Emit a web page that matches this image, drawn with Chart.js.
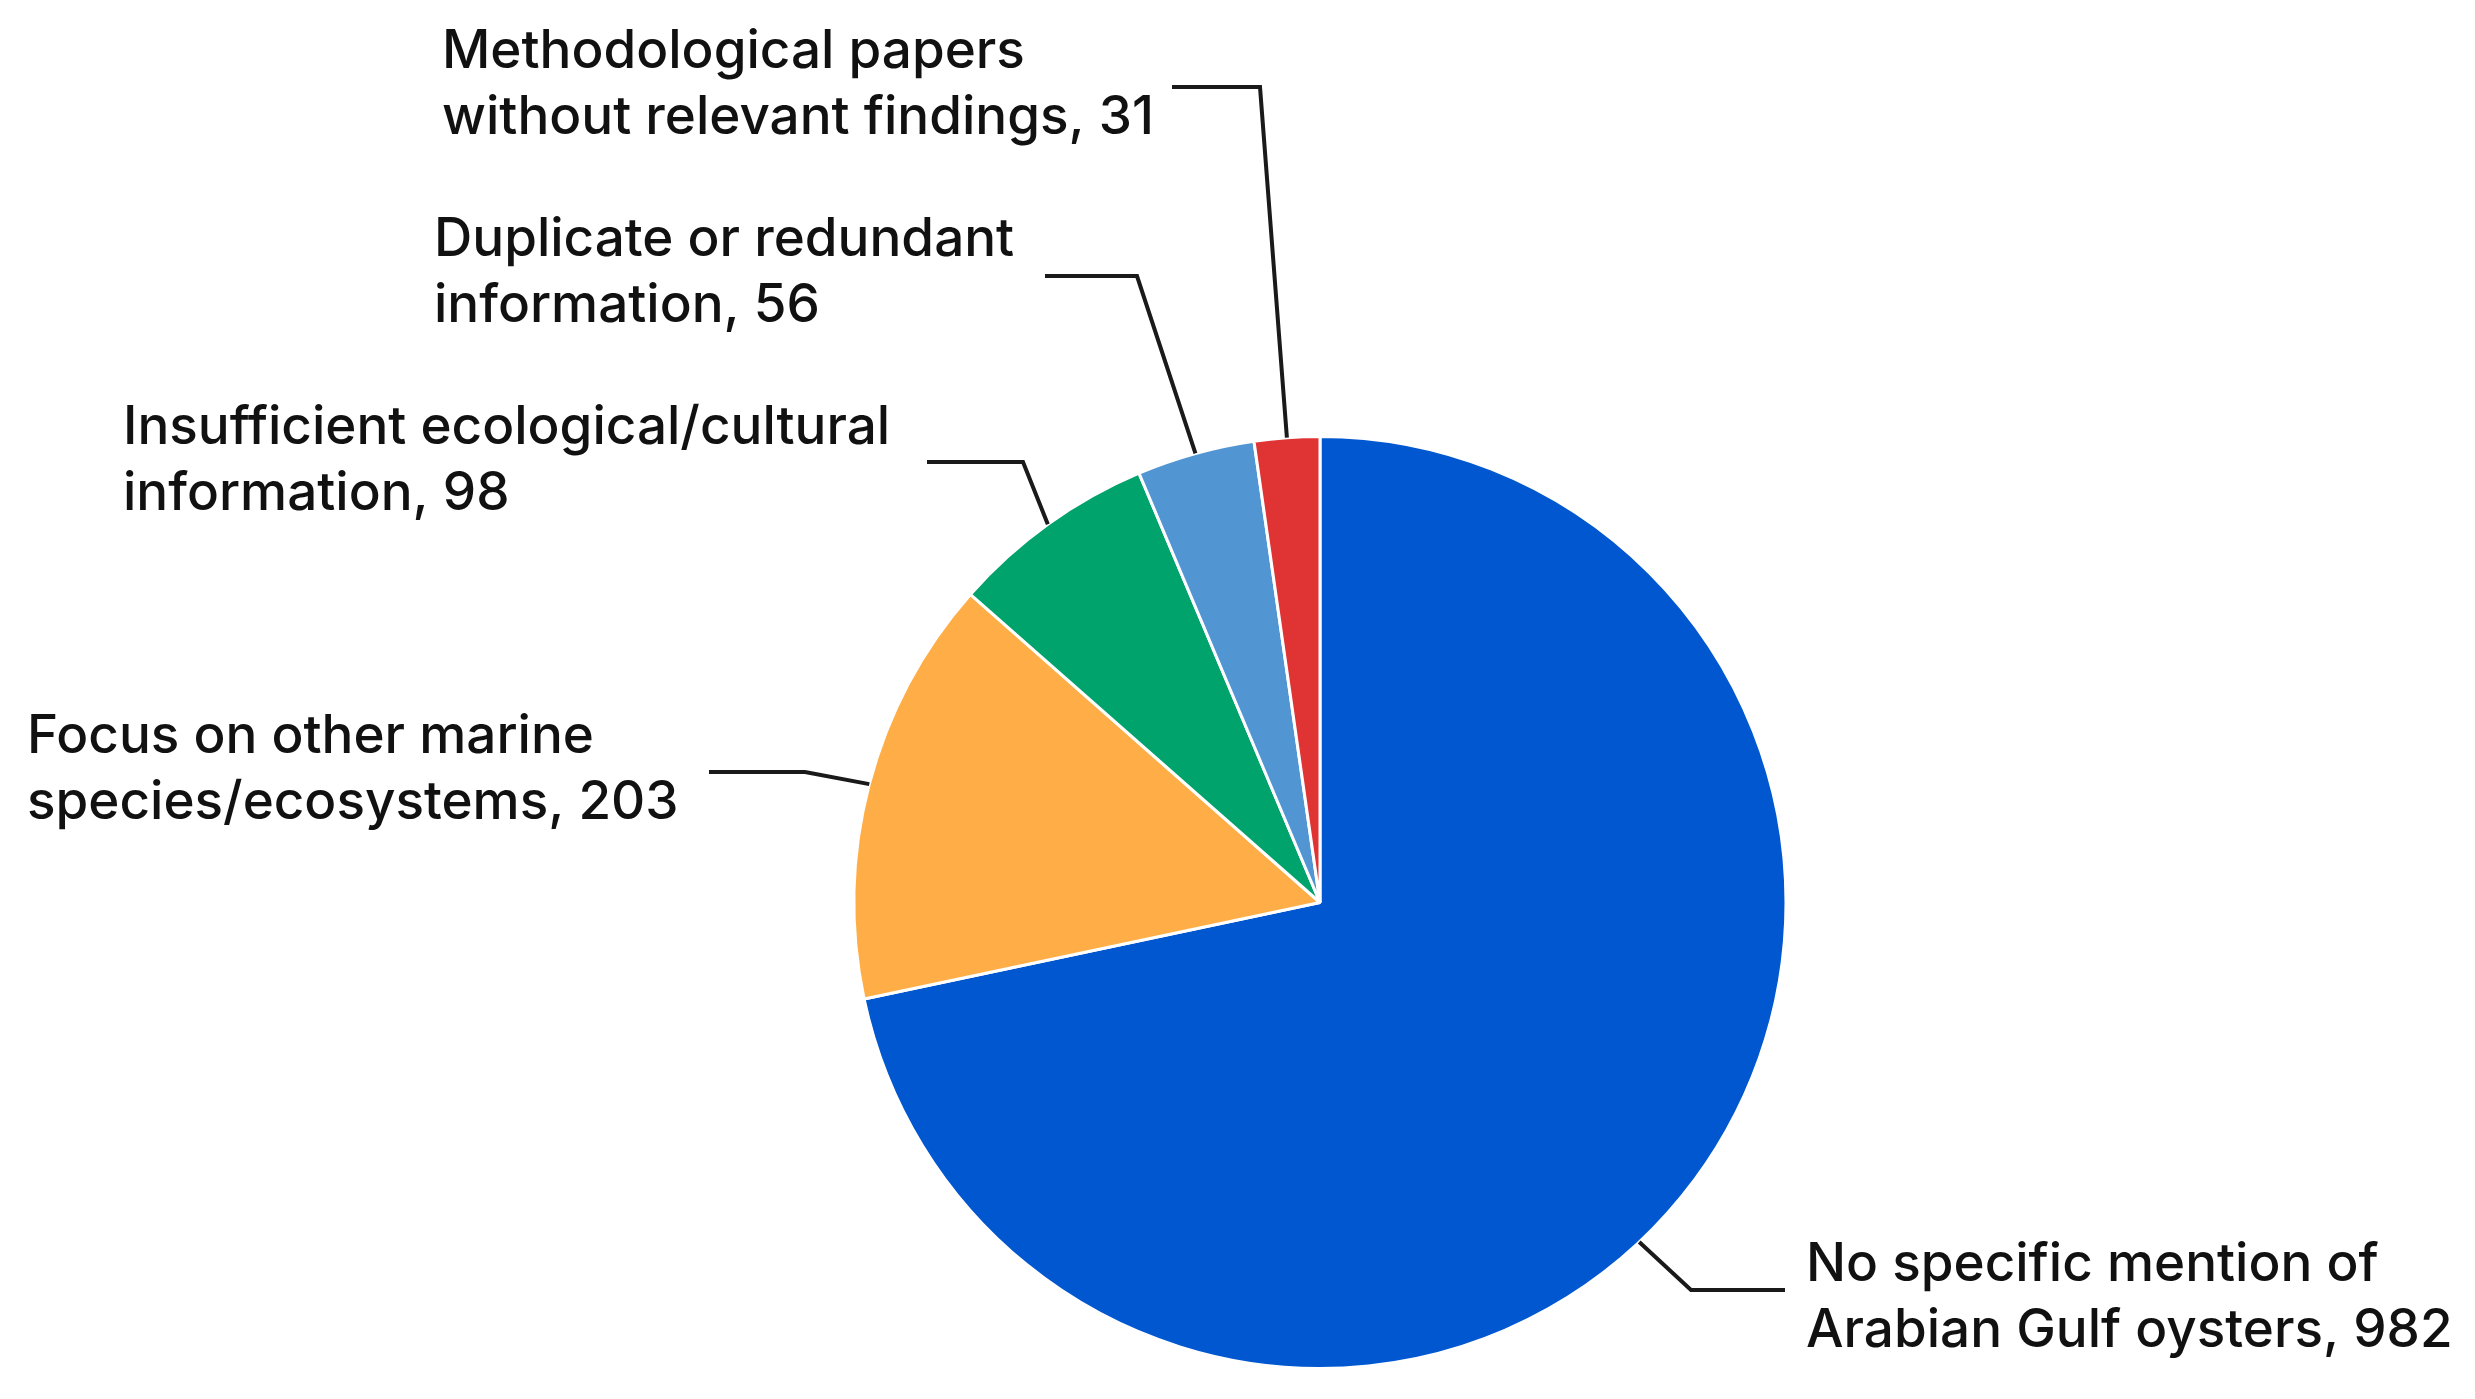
<!DOCTYPE html>
<html>
<head>
<meta charset="utf-8">
<script src="https://cdn.jsdelivr.net/npm/chart.js@4.4.0/dist/chart.umd.min.js"></script>
<style>
  html, body { margin: 0; padding: 0; background: #fff; }
  #wrap { width: 2475px; height: 1399px; }
</style>
</head>
<body>
<div id="wrap"><canvas id="pieChart" width="2475" height="1399"></canvas></div>
<script>
const categories = [
  'No specific mention of Arabian Gulf oysters',
  'Focus on other marine species/ecosystems',
  'Insufficient ecological/cultural information',
  'Duplicate or redundant information',
  'Methodological papers without relevant findings'
];
const counts = [982, 203, 98, 56, 31];
const labelLines = [
  ['No specific mention of', 'Arabian Gulf oysters'],
  ['Focus on other marine', 'species/ecosystems'],
  ['Insufficient ecological/cultural', 'information'],
  ['Duplicate or redundant', 'information'],
  ['Methodological papers', 'without relevant findings']
];
const sliceColors = ['#0057cf', '#ffae47', '#00a36c', '#5196d2', '#e03434'];

// where each callout sits (pixels); frac = where on the slice edge the leader touches
const callouts = [
  { frac: 0.53, elbow: [1691, 1290], end: [1785, 1290], x: 1806, y: 1281 },
  { frac: 0.5, elbow: [805, 772], end: [709, 772], x: 27, y: 753 },
  { frac: 0.5, elbow: [1023, 462], end: [927, 462], x: 123, y: 444 },
  { frac: 0.5, elbow: [1137, 276], end: [1045, 276], x: 434, y: 256 },
  { frac: 0.5, elbow: [1260, 87], end: [1172, 87], x: 442, y: 68 }
];

const calloutPlugin = {
  id: 'callouts',
  afterDatasetsDraw(chart) {
    const ctx = chart.ctx;
    const arcs = chart.getDatasetMeta(0).data;
    ctx.save();
    ctx.strokeStyle = '#1a1a1a';
    ctx.lineWidth = 4;
    ctx.fillStyle = '#111';
    ctx.font = '500 53px Inter';
    ctx.textBaseline = 'alphabetic';
    callouts.forEach((c, i) => {
      const a = arcs[i].getProps(['x', 'y', 'startAngle', 'endAngle', 'outerRadius'], true);
      const ang = a.startAngle + c.frac * (a.endAngle - a.startAngle);
      const ax = a.x + a.outerRadius * Math.cos(ang);
      const ay = a.y + a.outerRadius * Math.sin(ang);
      ctx.beginPath();
      ctx.moveTo(ax, ay);
      ctx.lineTo(c.elbow[0], c.elbow[1]);
      ctx.lineTo(c.end[0], c.end[1]);
      ctx.stroke();
      const lines = labelLines[i].slice();
      lines[lines.length - 1] += ', ' + counts[i];
      lines.forEach((t, k) => ctx.fillText(t, c.x, c.y + k * 66));
    });
    ctx.restore();
  }
};

new Chart(document.getElementById('pieChart'), {
  type: 'pie',
  data: {
    labels: categories,
    datasets: [{
      data: counts,
      backgroundColor: sliceColors,
      borderColor: '#ffffff',
      borderWidth: 3
    }]
  },
  options: {
    responsive: false,
    animation: false,
    layout: { padding: { top: 435, bottom: 29, left: 852, right: 687 } },
    plugins: {
      legend: { display: false },
      tooltip: { enabled: false }
    }
  },
  plugins: [calloutPlugin]
});
</script>
</body>
</html>
